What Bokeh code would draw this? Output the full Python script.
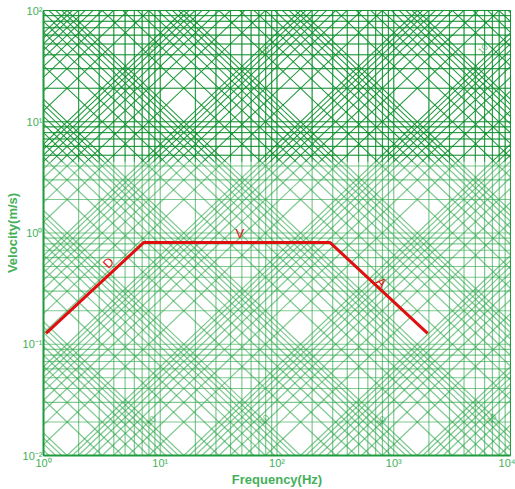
import math
from bokeh.plotting import figure
from bokeh.models import Range1d, FixedTicker, Label
from bokeh.core.properties import value
from bokeh.embed import file_html
from bokeh.resources import INLINE

# ---- data ----
freq_ticks = [1, 10, 100, 1000, 10000]
vel_ticks = [0.01, 0.1, 1, 10, 100]
x_tick_labels = ["10⁰", "10¹", "10²", "10³", "10⁴"]
y_tick_labels = ["10⁻²", "10⁻¹", "10⁰", "10¹", "10²"]
minor_mult = [1, 2, 3, 4, 5, 6, 7, 8, 9]
disp_decades = list(range(-9, 3))   # displacement line decades (m)
acc_decades = list(range(-2, 8))    # acceleration line decades (m/s^2)
two_pi = 2 * math.pi

# velocity envelope (D - V - A)
env_freq = [1.05, 7.2, 285, 1950]
env_vel = [0.125, 0.82, 0.82, 0.125]

# diagonal labels
lab_D = (3.6, 0.54)
lab_V = (48.0, 1.0)
lab_A = (785.0, 0.36)
diag_lab_f = [8.5, 78, 5800, 8.3, 78, 780, 6900]
diag_lab_v = [47, 43, 45, 0.0205, 0.021, 0.0205, 0.0215]
diag_lab_txt = ["10", "10", "10", "10", "10", "10", "10"]

GREEN = "#1f9a3c"
TXT_GREEN = "#45b05a"

lf0, lf1 = math.log10(freq_ticks[0]), math.log10(freq_ticks[-1])
lv0, lv1 = math.log10(vel_ticks[0]), math.log10(vel_ticks[-1])
off = math.log10(two_pi)


def grid_segments(u0, u1, w0, w1):
    xs0, ys0, xs1, ys1 = [], [], [], []
    # vertical
    for n in range(int(lf0), int(lf1) + 1):
        for k in minor_mult:
            u = n + math.log10(k)
            if u0 <= u <= u1 + 1e-9:
                xs0.append(10 ** u); xs1.append(10 ** u)
                ys0.append(10 ** w0); ys1.append(10 ** w1)
    # horizontal
    for n in range(int(lv0), int(lv1) + 1):
        for k in minor_mult:
            w = n + math.log10(k)
            if w0 - 1e-9 <= w <= w1 + 1e-9:
                ys0.append(10 ** w); ys1.append(10 ** w)
                xs0.append(10 ** u0); xs1.append(10 ** u1)
    # displacement lines: w = u + off + log d
    for n in disp_decades:
        for k in minor_mult:
            c = off + n + math.log10(k)
            lo, hi = max(u0, w0 - c), min(u1, w1 - c)
            if hi - lo > 1e-6:
                xs0.append(10 ** lo); ys0.append(10 ** (lo + c))
                xs1.append(10 ** hi); ys1.append(10 ** (hi + c))
    # acceleration lines: w = -u - off + log a
    for n in acc_decades:
        for k in minor_mult:
            c = -off + n + math.log10(k)
            lo, hi = max(u0, c - w1), min(u1, c - w0)
            if hi - lo > 1e-6:
                xs0.append(10 ** lo); ys0.append(10 ** (c - lo))
                xs1.append(10 ** hi); ys1.append(10 ** (c - hi))
    return xs0, ys0, xs1, ys1


p = figure(width=515, height=489, x_axis_type="log", y_axis_type="log",
           x_range=Range1d(freq_ticks[0], freq_ticks[-1]),
           y_range=Range1d(vel_ticks[0], vel_ticks[-1]),
           output_backend="svg", toolbar_location=None,
           min_border_left=43, min_border_right=5, min_border_top=10, min_border_bottom=32)

p.xgrid.visible = False
p.ygrid.visible = False
p.outline_line_color = GREEN
p.outline_line_width = 1
p.background_fill_color = "white"

# full grid (light)
a0, b0, a1, b1 = grid_segments(lf0, lf1, lv0, lv1)
p.segment(a0, b0, a1, b1, line_color="#2aa548", line_alpha=0.6, line_width=1.2)
# darker upper band
w_cut = 0.64
a0, b0, a1, b1 = grid_segments(lf0, lf1, w_cut, lv1)
p.segment(a0, b0, a1, b1, line_color="#0b8a2a", line_alpha=0.75, line_width=1)

# envelope
p.line(env_freq, env_vel, line_color="#e01010", line_width=3)

for (x, y), t, ang in [(lab_D, "D", math.pi / 4), (lab_V, "V", 0.0), (lab_A, "A", -math.pi / 4)]:
    p.add_layout(Label(x=x, y=y, text=t, angle=ang, text_color="#e01010",
                       text_font="Liberation Sans", text_font_size="13px",
                       text_align="center", text_baseline="middle"))

p.text(diag_lab_f, diag_lab_v, text=diag_lab_txt, angle=math.pi / 4,
       text_color=GREEN, text_alpha=0.7, text_font=value("Liberation Sans"),
       text_font_size="9px", text_align="center", text_baseline="middle")

# axes
p.xaxis.ticker = FixedTicker(ticks=freq_ticks)
p.yaxis.ticker = FixedTicker(ticks=vel_ticks)
p.xaxis.major_label_overrides = {t: l for t, l in zip(freq_ticks, x_tick_labels)}
p.yaxis.major_label_overrides = {t: l for t, l in zip(vel_ticks, y_tick_labels)}
for ax in (p.xaxis, p.yaxis):
    ax.axis_line_color = GREEN
    ax.axis_line_width = 2
    ax.major_tick_line_color = None
    ax.minor_tick_line_color = None
    ax.major_tick_out = 0
    ax.major_tick_in = 0
    ax.minor_tick_out = 0
    ax.minor_tick_in = 0
    ax.major_label_text_color = TXT_GREEN
    ax.major_label_text_font = "Liberation Sans"
    ax.major_label_text_font_size = "11px"
    ax.major_label_standoff = 1
    ax.axis_label_text_color = TXT_GREEN
    ax.axis_label_text_font = "Liberation Sans"
    ax.axis_label_text_font_style = "bold"
    ax.axis_label_text_font_size = "13px"
    ax.axis_label_standoff = 0
p.xaxis.axis_label = "Frequency(Hz)"
p.yaxis.axis_label = "Velocity(m/s)"

open("out.html", "w").write(file_html(p, INLINE))
